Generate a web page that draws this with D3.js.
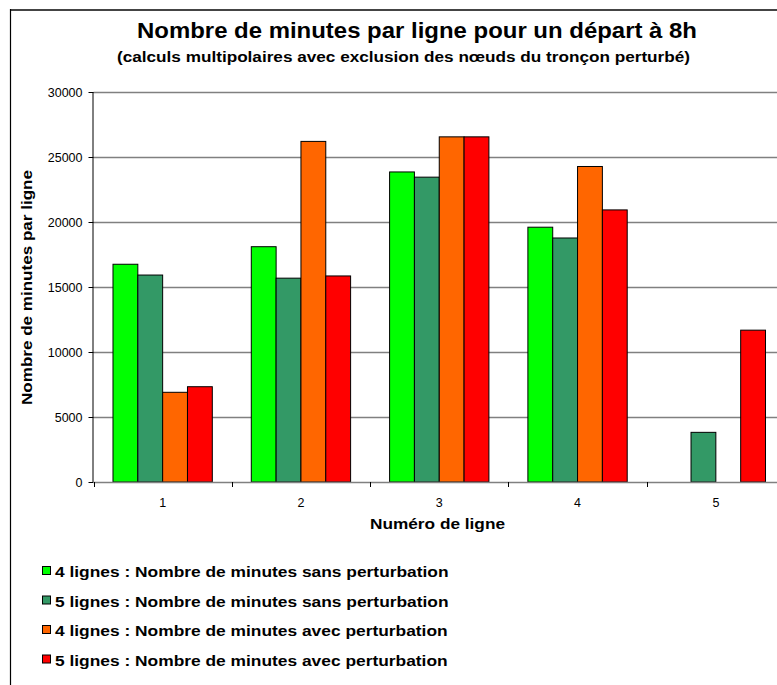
<!DOCTYPE html>
<html><head><meta charset="utf-8">
<script src="https://cdn.jsdelivr.net/npm/d3@7"></script>
<style>body{margin:0;background:#fff}svg{display:block}text{font-family:"Liberation Sans",Arial,sans-serif}</style>
</head><body><div id="c"></div>
<script>
const categories = ["1","2","3","4","5"];
const seriesNames = [
  "4 lignes : Nombre de minutes sans perturbation",
  "5 lignes : Nombre de minutes sans perturbation",
  "4 lignes : Nombre de minutes avec perturbation",
  "5 lignes : Nombre de minutes avec perturbation"
];
const colors = ["#00FF00","#339966","#FF6600","#FF0000"];
const s4sans = [16750, 18100, 23850, 19600, null];
const s5sans = [15920, 15680, 23450, 18770, 3820];
const s4avec = [6900, 26200, 26550, 24270, null];
const s5avec = [7330, 15850, 26550, 20930, 11680];
const series = [s4sans, s5sans, s4avec, s5avec];
const yTicks = [0,5000,10000,15000,20000,25000,30000];

(function(){
const W=777,H=685;
const svg=d3.select("#c").append("svg").attr("width",W).attr("height",H);
svg.append("rect").attr("width",W).attr("height",H).attr("fill","#fff");
// chart frame
svg.append("line").attr("x1",10).attr("x2",W).attr("y1",10).attr("y2",10).attr("stroke","#444").attr("stroke-width",2);
svg.append("line").attr("x1",10.5).attr("x2",10.5).attr("y1",9).attr("y2",H).attr("stroke","#000").attr("stroke-width",1.2);

const pL=93.5, pR=785, pT=92, pB=482;
const x=d3.scaleBand().domain(categories).range([pL,pR]).paddingInner(0).paddingOuter(0);
const y=d3.scaleLinear().domain([0,30000]).range([pB,pT]);

// gridlines
svg.append("g").selectAll("line").data(yTicks.filter(d=>d>0)).join("line")
  .attr("x1",pL).attr("x2",pR).attr("y1",d=>Math.round(y(d))+0.5).attr("y2",d=>Math.round(y(d))+0.5)
  .attr("stroke","#808080").attr("stroke-width",1.3);

// bars
const groupW = x.bandwidth();
const barW = groupW/(4+1.57);
const gap = (groupW-4*barW)/2;
series.forEach((vals,si)=>{
  svg.append("g").selectAll("rect").data(vals.map((v,i)=>({v,c:categories[i]})).filter(d=>d.v!=null)).join("rect")
    .attr("x",d=>x(d.c)+gap+si*barW)
    .attr("y",d=>y(d.v))
    .attr("width",barW)
    .attr("height",d=>y(0)-y(d.v))
    .attr("fill",colors[si]).attr("stroke","#000").attr("stroke-width",1);
});

// y axis
const ya=d3.axisLeft(y).tickValues(yTicks).tickSize(5).tickPadding(6).tickFormat(d3.format("d"));
const gy=svg.append("g").attr("transform",`translate(${pL},0)`).call(ya);
gy.select(".domain").attr("stroke","#000").attr("d",`M-0.5,${pT}V${pB}`);
gy.selectAll(".tick line").attr("stroke","#000");
gy.selectAll("text").attr("font-size",12.5).attr("fill","#000").style("font-family","Liberation Sans, Arial, sans-serif");

// x axis
const xa=d3.axisBottom(x).tickSize(0).tickPadding(16);
const gx=svg.append("g").attr("transform",`translate(0,${pB})`).call(xa);
gx.select(".domain").attr("stroke","#808080").attr("stroke-width",1.3).attr("d",`M${pL},0.5H${pR}`);
gx.selectAll("text").attr("font-size",12.5).attr("fill","#000").style("font-family","Liberation Sans, Arial, sans-serif");
// category separator ticks
svg.append("g").selectAll("line").data(categories.map(c=>x(c)).concat([x(categories[4])+groupW])).join("line")
  .attr("x1",d=>Math.round(d)+0.5).attr("x2",d=>Math.round(d)+0.5).attr("y1",pB).attr("y2",pB+5)
  .attr("stroke","#000");

function stretch(t, len){ t.attr("textLength",len).attr("lengthAdjust","spacingAndGlyphs"); return t; }

// titles
stretch(svg.append("text").attr("x",417).attr("y",38).attr("text-anchor","middle").attr("font-size",22).attr("font-weight","bold")
  .text("Nombre de minutes par ligne pour un départ à 8h"),560);
stretch(svg.append("text").attr("x",403.5).attr("y",62).attr("text-anchor","middle").attr("font-size",14.5).attr("font-weight","bold")
  .text("(calculs multipolaires avec exclusion des nœuds du tronçon perturbé)"),573);
stretch(svg.append("text").attr("transform",`translate(32,${287.5}) rotate(-90)`).attr("text-anchor","middle").attr("font-size",15).attr("font-weight","bold")
  .text("Nombre de minutes par ligne"),235);
stretch(svg.append("text").attr("x",437.5).attr("y",529).attr("text-anchor","middle").attr("font-size",15).attr("font-weight","bold")
  .text("Numéro de ligne"),135);

// legend
const lg=svg.append("g");
seriesNames.forEach((n,i)=>{
  const cy=571+i*29.5;
  lg.append("rect").attr("x",42.5).attr("y",cy-4.5).attr("width",8).attr("height",8).attr("fill",colors[i]).attr("stroke","#000").attr("stroke-width",1);
  const t=lg.append("text").attr("x",55).attr("y",cy+6).attr("font-size",15.5).attr("font-weight","bold").text(n);
  const L=t.node().getComputedTextLength();
  stretch(t, L*1.12);
});
})();
</script></body></html>
